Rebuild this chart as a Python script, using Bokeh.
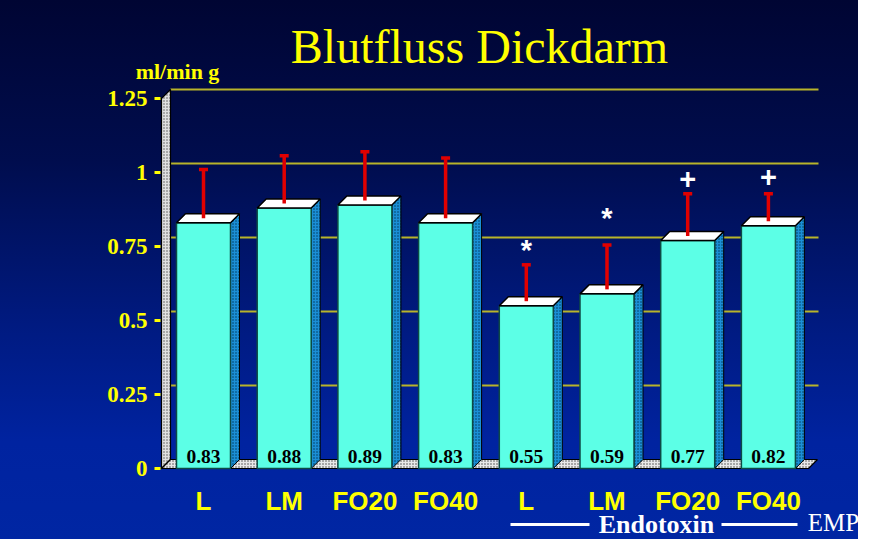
import numpy as np
from bokeh.plotting import figure
from bokeh.models import Range1d, FixedTicker, Label
from bokeh.core.properties import value
from bokeh.embed import file_html
from bokeh.resources import INLINE

# ---------------- data ----------------
categories = ["L", "LM", "FO20", "FO40", "L", "LM", "FO20", "FO40"]
values = [0.83, 0.88, 0.89, 0.83, 0.55, 0.59, 0.77, 0.82]
errors = [0.165, 0.161, 0.165, 0.204, 0.123, 0.150, 0.143, 0.093]
markers = ["", "", "", "", "*", "*", "+", "+"]
marker_gap = [0, 0, 0, 0, 0.05, 0.09, 0.05, 0.055]
y_ticks = [0, 0.25, 0.5, 0.75, 1, 1.25]
y_tick_labels = ["0", "0.25", "0.5", "0.75", "1", "1.25"]
title_text = "Blutfluss Dickdarm"
unit_text = "ml/min g"
group_text = "Endotoxin"
logo_text = "EMP"

# ---------------- geometry (frame = whole canvas) ----------------
W, H = 858, 539
ZERO_Y = 468                 # pixel row of value 0
PX_X, PX_Y = 80.7, 296.0     # pixels per data unit
x_start = 1 - 203 / PX_X
x_end = x_start + W / PX_X
y_start = -(H - ZERO_Y) / PX_Y
y_end = ZERO_Y / PX_Y

def xd(px):
    return x_start + px / PX_X

def yd(px):
    return (ZERO_Y - px) / PX_Y

dx, dy = 9 / PX_X, 9 / PX_Y
bw = 54 / PX_X
xs = np.arange(1, len(values) + 1, dtype=float)
vals = np.array(values)
errs = np.array(errors)

YELLOW = "#ffff00"

p = figure(width=W, height=H, output_backend="svg", toolbar_location=None,
           x_range=Range1d(x_start, x_end), y_range=Range1d(y_start, y_end),
           min_border=0, min_border_left=0, min_border_right=0,
           min_border_top=0, min_border_bottom=0)
p.background_fill_alpha = 0
p.border_fill_alpha = 0
p.outline_line_color = None
p.styles = {"background": "linear-gradient(180deg, #000533 0%, #000d4e 30%, #001a80 60%, #0023a0 82%, #0026a3 100%)"}
p.xgrid.visible = False
p.ygrid.visible = False

# back-wall grid lines (from tick values)
gy = np.array(y_ticks[1:], dtype=float) + dy
p.segment(x0=[xd(170)] * len(gy), y0=gy, x1=[xd(818)] * len(gy), y1=gy,
          line_color="#b8b42a", line_width=2)

# left wall
xw0 = xd(161)
ytop = y_ticks[-1]
p.patch([xw0, xw0, xw0 + dx, xw0 + dx], [0, ytop, ytop + dy, dy],
        fill_color="#e0e0e0", hatch_pattern="dot", hatch_color="#555555",
        hatch_scale=3, line_color="black", line_width=1.2)
# floor
xf1 = xd(808)
p.patch([xw0, xw0 + dx, xf1 + dx, xf1], [0, dy, dy, 0],
        fill_color="#e8e8e8", hatch_pattern="dot", hatch_color="#444444",
        hatch_scale=3, line_color="black", line_width=1.2)

# bars: side faces
side_xs = [[x + bw / 2, x + bw / 2 + dx, x + bw / 2 + dx, x + bw / 2] for x in xs]
side_ys = [[0, dy, v + dy, v] for v in vals]
p.patches(side_xs, side_ys, fill_color="#1b8fd6", hatch_pattern="dot",
          hatch_color="#00355a", hatch_scale=3, line_color="black", line_width=1)
# front faces
p.vbar(x=xs, width=bw, top=vals, bottom=0, fill_color="#5cffe6",
       line_color="#0c4a45", line_width=1.5)
# top faces
top_xs = [[x - bw / 2, x - bw / 2 + dx, x + bw / 2 + dx, x + bw / 2] for x in xs]
top_ys = [[v, v + dy, v + dy, v] for v in vals]
p.patches(top_xs, top_ys, fill_color="white", line_color="black", line_width=1.5)

# error bars
base = vals + dy / 2
tops = base + errs
p.segment(x0=xs, y0=base, x1=xs, y1=tops, line_color="#e00000", line_width=3.5)
cap = 4.5 / PX_X
p.segment(x0=xs - cap, y0=tops, x1=xs + cap, y1=tops, line_color="#e00000",
          line_width=3.5)

# value labels
p.text(x=xs, y=[yd(456)] * len(xs), text=[f"{v:.2f}" for v in values],
       text_align="center", text_baseline="middle", text_color="black",
       text_font=value("Liberation Serif"), text_font_style="bold",
       text_font_size="19.5px")

# significance markers
m_idx = [i for i, m in enumerate(markers) if m]
p.text(x=xs[m_idx], y=[tops[i] + marker_gap[i] for i in m_idx],
       text=[markers[i] for i in m_idx], text_align="center",
       text_baseline="middle", text_color="white",
       text_font=value("Liberation Sans"), text_font_style="bold",
       text_font_size="29px")

# axes drawn at fixed data locations inside the frame
yax = p.yaxis[0]
yax.fixed_location = xd(160)
yax.ticker = FixedTicker(ticks=y_ticks)
yax.major_label_overrides = {(int(t) if float(t).is_integer() else t): lab
                             for t, lab in zip(y_ticks, y_tick_labels)}
yax.axis_line_color = None
yax.minor_tick_line_color = None
yax.major_tick_in = 0
yax.major_tick_out = 6
yax.major_tick_line_color = YELLOW
yax.major_tick_line_width = 3
yax.major_label_standoff = 7
yax.major_label_text_color = YELLOW
yax.major_label_text_font = "Liberation Serif"
yax.major_label_text_font_style = "bold"
yax.major_label_text_font_size = "23px"

xax = p.xaxis[0]
xax.fixed_location = 0
xax.ticker = FixedTicker(ticks=list(range(1, len(categories) + 1)))
xax.major_label_overrides = {i + 1: c for i, c in enumerate(categories)}
xax.axis_line_color = None
xax.minor_tick_line_color = None
xax.major_tick_line_color = None
xax.major_label_standoff = 11
xax.major_label_text_color = YELLOW
xax.major_label_text_font = "Liberation Sans"
xax.major_label_text_font_style = "bold"
xax.major_label_text_font_size = "26px"

# title & unit
p.add_layout(Label(x=xd(479), y=yd(46), text=title_text, text_align="center",
                   text_baseline="middle", text_color=YELLOW,
                   text_font="Liberation Serif", text_font_size="48px"))
p.add_layout(Label(x=xd(177), y=yd(71), text=unit_text, text_align="center",
                   text_baseline="middle", text_color=YELLOW,
                   text_font="Liberation Serif", text_font_style="bold",
                   text_font_size="22px"))

# group label with lines (kept inside the 539 px canvas)
ly = yd(524)
p.segment(x0=[xd(510), xd(721)], y0=[ly, ly], x1=[xd(589), xd(797)], y1=[ly, ly],
          line_color="white", line_width=3)
p.add_layout(Label(x=xd(656), y=ly, text=group_text, text_align="center",
                   text_baseline="middle", text_color="white",
                   text_font="Liberation Serif", text_font_style="bold",
                   text_font_size="26px"))
p.add_layout(Label(x=xd(833), y=yd(522), text=logo_text, text_align="center",
                   text_baseline="middle", text_color="white",
                   text_font="Liberation Serif", text_font_size="25px"))

open("out.html", "w").write(file_html(p, INLINE))
